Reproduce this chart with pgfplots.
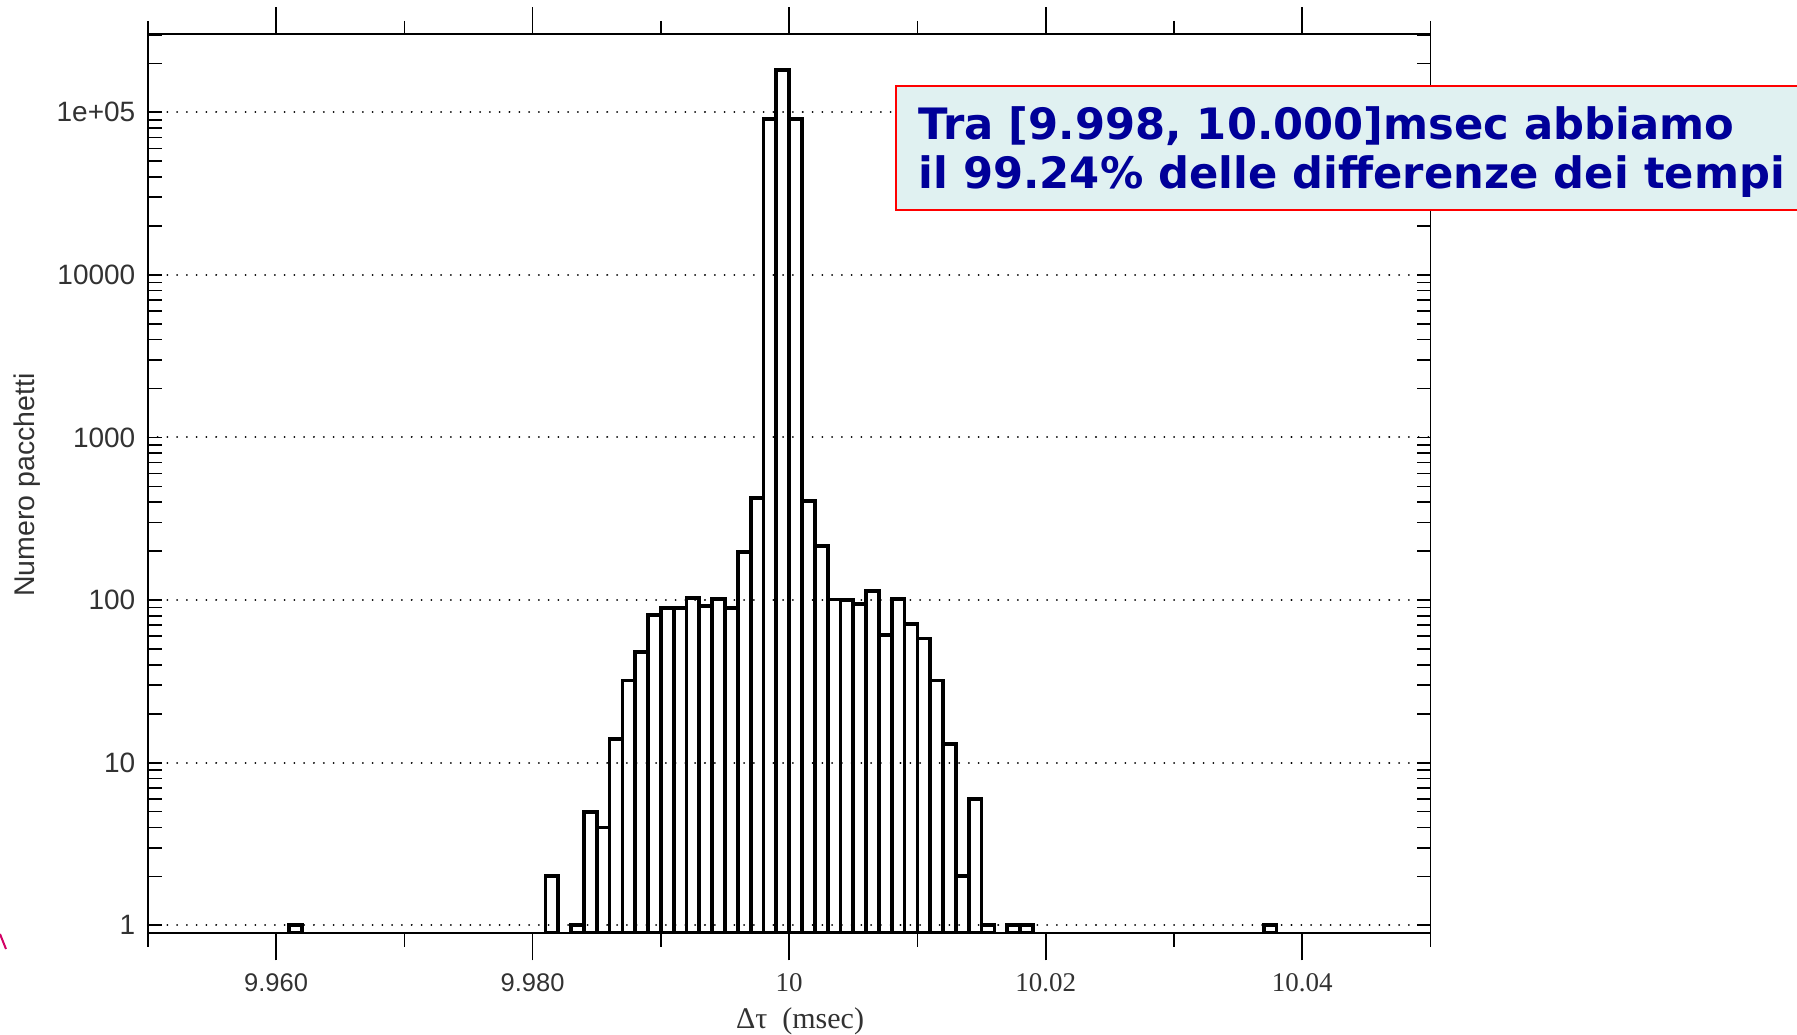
\documentclass[border=0pt]{standalone}
\usepackage{fontspec}
\setmainfont{Liberation Sans}
\newfontfamily\tnr{Liberation Serif}
\newfontfamily\dvs{DejaVu Sans}
\usepackage{pgfplots}
\pgfplotsset{compat=1.18}
\definecolor{boxfill}{RGB}{224,241,241}
\definecolor{boxtext}{RGB}{0,0,153}
\definecolor{boxred}{RGB}{255,0,0}
\definecolor{labgray}{RGB}{50,50,50}
\definecolor{pinkline}{RGB}{210,0,100}
\begin{document}
\begin{tikzpicture}
\path[use as bounding box] (0,0) rectangle (718.8pt,414pt);
% main axis: data, y ticks inside, grid, labels
\begin{axis}[
  at={(59.12pt,40.68pt)}, anchor=south west,
  scale only axis, width=513.08pt, height=359.6pt,
  xmin=9.95, xmax=10.05,
  ymode=log, ymin=0.893, ymax=3.018e5, log origin=infty,
  axis line style={black, line width=0.75pt},
  tick align=inside,
  major tick length=5.6pt, minor tick length=5.6pt,
  every tick/.style={black, line width=0.65pt},
  ytick={1,10,100,1000,10000,100000},
  yticklabels={1,10,100,1000,10000,1e+05},
  minor ytick={2,3,4,5,6,7,8,9,20,30,40,50,60,70,80,90,200,300,400,500,600,700,800,900,2000,3000,4000,5000,6000,7000,8000,9000,20000,30000,40000,50000,60000,70000,80000,90000,200000,300000},
  xtick={9.96,9.98,10,10.02,10.04},
  xticklabels={9.960,9.980,{\tnr\fontsize{10.8}{12}\selectfont 10},{\tnr\fontsize{10.8}{12}\selectfont 10.02},{\tnr\fontsize{10.8}{12}\selectfont 10.04}},
  x tick style={draw=none},
  yticklabel style={font=\fontsize{11.2}{13}\selectfont, text=labgray, anchor=east, inner sep=0pt, xshift=-4.8pt},
  xticklabel style={font=\fontsize{10.2}{12}\selectfont, text=labgray, anchor=center, inner sep=0pt, yshift=-19.9pt},
  ymajorgrids,
  major grid style={black, line width=0.8pt, dash pattern=on 0.01pt off 3.9pt, line cap=round},
  ylabel={Numero pacchetti},
  ylabel style={at={(axis description cs:-0.0938,0.4987)}, anchor=center, font=\fontsize{11.4}{13}\selectfont, text=labgray},
  xlabel={Δτ\ \ (msec)},
  xlabel style={at={(axis description cs:0.5085,-0.0983)}, anchor=center, font=\tnr\fontsize{12}{14}\selectfont, text=labgray},
]
\addplot[ybar, bar width=0.001, bar shift=0pt, draw=black, fill=none, line width=1.5pt] table[x=x, y=y] {
x y
9.9615 1
9.9815 2
9.9835 1
9.9845 5
9.9855 4
9.9865 14
9.9875 32
9.9885 48
9.9895 81
9.9905 89
9.9915 89
9.9925 103
9.9935 92
9.9945 102
9.9955 89
9.9965 197
9.9975 423
9.9985 91000
9.9995 182000
10.0005 91000
10.0015 407
10.0025 215
10.0035 101
10.0045 100
10.0055 95
10.0065 114
10.0075 61
10.0085 102
10.0095 71
10.0105 58
10.0115 32
10.0125 13
10.0135 2
10.0145 6
10.0155 1
10.0175 1
10.0185 1
10.0375 1
};
\end{axis}
% second axis: x ticks outside, no labels
\begin{axis}[
  at={(59.12pt,40.68pt)}, anchor=south west,
  scale only axis, width=513.08pt, height=359.6pt,
  xmin=9.95, xmax=10.05, ymin=0, ymax=1,
  axis line style={draw=none},
  ytick=\empty,
  xtick={9.96,9.98,10,10.02,10.04}, xticklabels={},
  minor xtick={9.95,9.97,9.99,10.01,10.03,10.05},
  tick align=outside, major tick length=10.8pt, minor tick length=5.4pt,
  every tick/.style={black, line width=0.65pt},
]
\end{axis}
% annotation box
\draw[boxred, line width=0.8pt, fill=boxfill] (358.2pt,330pt) rectangle (730pt,379.6pt);
\node[anchor=base west, inner sep=0pt, text=boxtext, font=\dvs\bfseries\fontsize{17.3}{19.3}\selectfont] at (367.2pt,358pt) {Tra [9.998, 10.000]msec abbiamo};
\node[anchor=base west, inner sep=0pt, text=boxtext, font=\dvs\bfseries\fontsize{17.3}{19.3}\selectfont] at (367.2pt,338.7pt) {il 99.24\% delle differenze dei tempi};
\draw[pinkline, line width=0.8pt] (0pt,40.4pt) -- (2.4pt,34.4pt);
\end{tikzpicture}
\end{document}
